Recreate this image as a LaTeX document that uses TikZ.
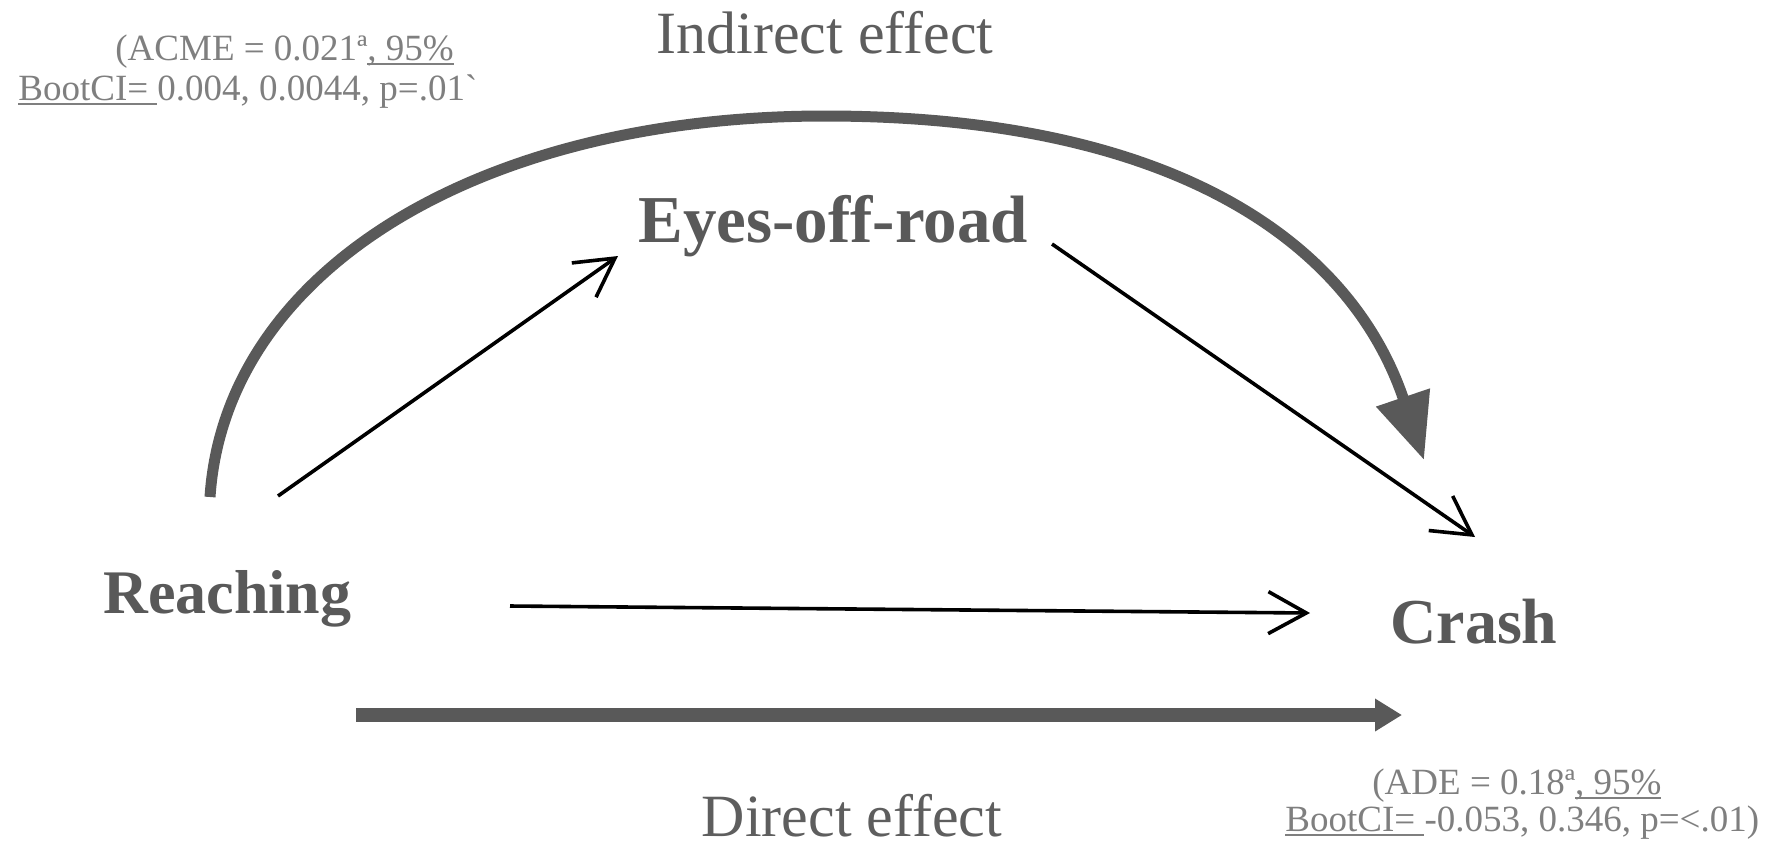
\documentclass[tikz,border=0pt]{standalone}
\usepackage{fontspec}
\setmainfont{Liberation Serif}[Ligatures=NoCommon]
\newfontfamily\nomapfont{Liberation Serif}[Ligatures={TeXOff,NoCommon}]
\usetikzlibrary{arrows.meta}
\definecolor{labc}{HTML}{595959}
\definecolor{annc}{HTML}{7F7F7F}
\definecolor{effc}{HTML}{5E5E5E}
\definecolor{arrc}{HTML}{595959}
\newcommand\myul[1]{\setbox0=\hbox{#1}\rlap{\rule[-2.6pt]{\wd0}{1pt}}\box0\relax}
\begin{document}
\begin{tikzpicture}[x=0.5pt,y=-0.5pt,
  lab/.style={inner sep=0pt, anchor=base west, text=labc, font={\bfseries\fontsize{32}{38}\selectfont}},
  eff/.style={inner sep=0pt, anchor=base, text=effc, font={\fontsize{30}{36}\selectfont}},
  ann/.style={inner sep=0pt, anchor=base west, text=annc, font={\fontsize{18.5}{22}\selectfont}},
  thinarrow/.style={draw=black, line width=1.8pt, -{Straight Barb[length=19pt,width=21pt]}},
  thickarrow/.style={draw=arrc, line width=7pt, -{Triangle[length=13.5pt,width=15.5pt]}},
  arcarrow/.style={draw=arrc, line width=5.5pt, -{Triangle[length=33pt,width=27pt]}}]
\useasboundingbox (0,0) rectangle (1765,848);

% labels
\node[lab, font={\bfseries\fontsize{31}{37}\selectfont}] (reach) at (103,613) {Reaching};
\node[lab, font={\bfseries\fontsize{33.5}{40}\selectfont}] (eyes) at (638,242) {Eyes-off-road};
\node[lab] (crash) at (1390,643) {Crash};
\node[eff] (ind) at (825,53) {Indirect effect};
\node[eff] (dir) at (852,836) {Direct effect};

% annotations
\node[ann] (acme1) at (115,60) {(ACME = 0.021ª\myul{, 95\%}};
\node[ann] (acme2) at (18,100) {\myul{BootCI=\ }0.004, 0.0044, p=.01{\nomapfont\symbol{96}}};
\node[ann] (ade1) at (1372,794) {(ADE = 0.18ª\myul{, 95\%}};
\node[ann] (ade2) at (1285,831) {\myul{BootCI=\ }-0.053, 0.346, p=<.01)};

% connector end points
\coordinate (reachTop) at (278,496);
\coordinate (eyesIn) at (618,256);
\coordinate (eyesOut) at (1052,244);
\coordinate (crashTop) at (1475,537);
\coordinate (reachRight) at (510,606);
\coordinate (crashLeft) at (1310,613);
\coordinate (directStart) at (356,715);
\coordinate (directEnd) at (1402,715);
\coordinate (indStart) at (210,497);
\coordinate (indPeak) at (825,116);
\coordinate (indEnd) at (1424,460);

% indirect effect arc
\draw[arcarrow] (indStart) .. controls (225,270) and (480,116) .. (indPeak)
                           .. controls (1170,116) and (1350,240) .. (indEnd);

% direct effect arrow
\draw[thickarrow] (directStart) -- (directEnd);

% path arrows
\draw[thinarrow] (reachTop) -- (eyesIn);
\draw[thinarrow] (eyesOut) -- (crashTop);
\draw[thinarrow] (reachRight) -- (crashLeft);
\end{tikzpicture}
\end{document}
